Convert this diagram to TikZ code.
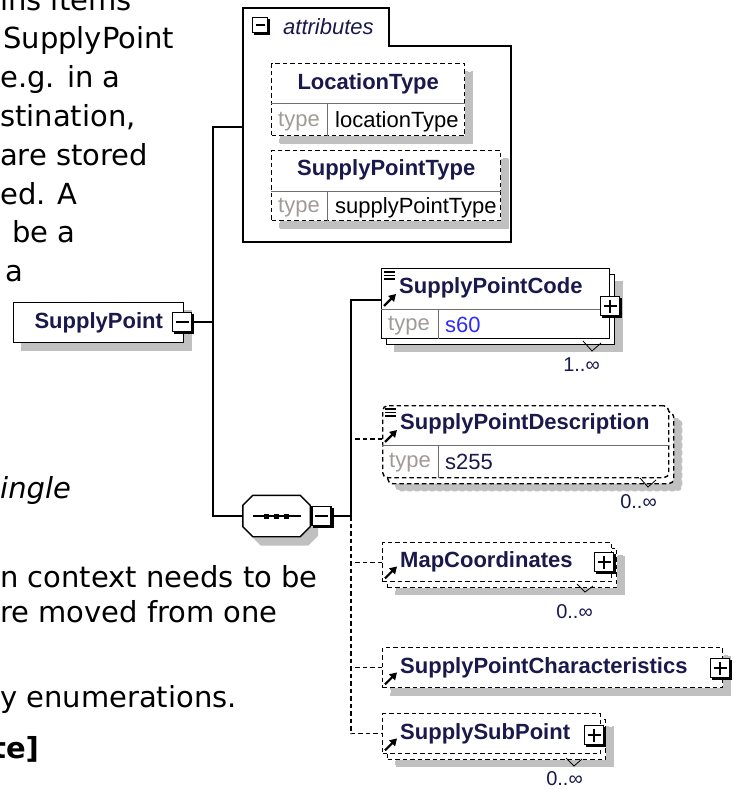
\documentclass[tikz,border=0pt]{standalone}
\usepackage{fontspec}
\setmainfont{DejaVu Sans}
\newfontfamily\xsdfont{Liberation Sans}
\usepackage{tikz}
\usetikzlibrary{arrows.meta, shadows, positioning, calc}
\definecolor{hdrnavy}{RGB}{25,25,75}
\definecolor{typegrey}{RGB}{160,155,150}
\definecolor{valblue}{RGB}{45,45,245}
\definecolor{shadowgrey}{RGB}{192,192,192}
\definecolor{rulegrey}{RGB}{110,110,110}
\newcommand{\octpath}[1]{([xshift=10pt]#1.north west) -- ([xshift=-10pt]#1.north east) -- ([yshift=-10pt]#1.north east) -- ([yshift=10pt]#1.south east) -- ([xshift=-10pt]#1.south east) -- ([xshift=10pt]#1.south west) -- ([yshift=10pt]#1.south west) -- ([yshift=-10pt]#1.north west) -- cycle}
\tikzset{
    doctext/.style = {anchor=base west, inner sep=0pt, font=\fontsize{29}{35}\selectfont},
    elem/.style = {rectangle, draw=black, line width=1.4pt, fill=white, inner sep=0pt, anchor=north west},
    optelem/.style = {elem, dash pattern=on 4.5pt off 3pt},
    single/.style = {drop shadow={shadow xshift=8pt, shadow yshift=-8pt, fill=shadowgrey, draw=shadowgrey, opacity=1}},
    multi/.style = {drop shadow={shadow xshift=13pt, shadow yshift=-13pt, fill=shadowgrey, draw=shadowgrey, opacity=1},
                    copy shadow={shadow xshift=5pt, shadow yshift=-6pt, fill=white, draw=black}},
    hdrfont/.style = {text=hdrnavy, font=\xsdfont\bfseries\fontsize{22}{26}\selectfont},
    hdr/.style = {hdrfont, anchor=west, inner sep=0pt},
    typelbl/.style = {inner sep=0pt, text=typegrey, font=\xsdfont\fontsize{22}{26}\selectfont},
    typeval/.style = {anchor=west, inner sep=0pt, text=black, font=\xsdfont\fontsize{22}{26}\selectfont},
    occurs/.style = {anchor=east, inner sep=0pt, text=hdrnavy, font=\xsdfont\fontsize{20}{24}\selectfont},
    divline/.style = {rulegrey, line width=1pt},
    conn/.style = {line width=1.4pt},
    optconn/.style = {line width=1.3pt, dash pattern=on 4.5pt off 3pt},
    pmbox/.style = {rectangle, draw=black, line width=1.3pt, fill=white, minimum size=19pt, inner sep=0pt,
                    drop shadow={shadow xshift=2pt, shadow yshift=-2pt, fill=black, draw=black, opacity=1}},
    minus/.style = {pmbox, path picture={\draw[line width=1.3pt] ([xshift=3pt]path picture bounding box.west) -- ([xshift=-3pt]path picture bounding box.east);}},
    plus/.style = {pmbox, path picture={\draw[line width=1.3pt] ([xshift=3pt]path picture bounding box.west) -- ([xshift=-3pt]path picture bounding box.east) ([yshift=-3pt]path picture bounding box.north) -- ([yshift=3pt]path picture bounding box.south);}},
    refarrow/.pic = {\draw[line width=2.2pt, -{Triangle[length=7pt, width=8pt]}] (-6,6) -- (6,-6);},
    simpletype/.pic = {\foreach \ly in {0,3.5,7} \draw[line width=1.4pt] (0,\ly) -- (11,\ly);}
}

\begin{document}
\begin{tikzpicture}[x=1pt, y=-1pt]
\useasboundingbox (0,0) rectangle (733,789);
\clip (0,0) rectangle (733,789);

% page text behind the diagram
\node[doctext] (p1) at (0,11) {ins items};
\node[doctext] (p2) at (3,49) {SupplyPoint};
\node[doctext] (p3) at (0,88) {e.g. in a};
\node[doctext] (p4) at (0,126) {stination,};
\node[doctext] (p5) at (0,165) {are stored};
\node[doctext] (p6) at (0,204) {ed. A};
\node[doctext] (p7) at (12,242) {be a};
\node[doctext] (p8) at (5,281) {a};
\node[doctext, font=\fontsize{29}{35}\selectfont\itshape] (p9) at (0,498) {ingle};
\node[doctext] (p10) at (0,587) {n context needs to be};
\node[doctext] (p11) at (0,622) {re moved from one};
\node[doctext] (p12) at (0,707) {y enumerations.};
\node[doctext, font=\fontsize{29}{35}\selectfont\bfseries] (p13) at (-8,758) {te]};

% attributes
\coordinate (attrs) at (243,127);
\draw[conn] (243,8) -| (389,46) -| (511,242) -- (243,242) -- cycle;
\node[minus, minimum size=15pt] (attrbtn) at (260,25) {};
\node[anchor=west, inner sep=0pt, text=hdrnavy, font=\xsdfont\itshape\fontsize{22}{26}\selectfont] (attrlbl) at (283,27) {attributes};

\node[optelem, single, minimum width=193pt, minimum height=72pt] (loc) at (271,63) {};
\draw[divline] ($(loc.north west)+(0,41)$) -- ($(loc.north east)+(0,41)$);
\draw[divline] ($(loc.north west)+(56,41)$) -- ($(loc.south west)+(56,0)$);
\node[hdr, anchor=center] (lochd) at ($(loc.north)+(0,21)$) {LocationType};
\node[typelbl] (loctype) at ($(loc.south west)+(28,-15)$) {type};
\node[typeval] (locval) at ($(loc.south west)+(64,-15)$) {locationType};

\node[optelem, single, minimum width=229pt, minimum height=70pt] (spt) at (271,150) {};
\draw[divline] ($(spt.north west)+(0,41)$) -- ($(spt.north east)+(0,41)$);
\draw[divline] ($(spt.north west)+(56,41)$) -- ($(spt.south west)+(56,0)$);
\node[hdr, anchor=center] (spthd) at ($(spt.north)+(0,20)$) {SupplyPointType};
\node[typelbl] (spttype) at ($(spt.south west)+(28,-14)$) {type};
\node[typeval] (sptval) at ($(spt.south west)+(64,-14)$) {supplyPointType};

% root element
\node[elem, single, hdrfont, minimum width=170pt, minimum height=40pt] (sp) at (13,302) {SupplyPoint};
\node[minus] (spbtn) at (182,322) {};

% sequence
\node[inner sep=0pt, minimum width=67pt, minimum height=41pt] (seq) at (276.5,516) {};
\fill[shadowgrey, transform canvas={xshift=8pt, yshift=-9pt}] \octpath{seq};
\draw[conn, fill=white] \octpath{seq};
\draw[conn] ([xshift=10pt]seq.west) -- ([xshift=-9pt]seq.east);
\foreach \dx in {-10,0,10}
  \fill ([xshift=\dx pt]seq.center) +(-2.5,-2.5) rectangle +(2.5,2.5);
\node[minus] (seqbtn) at (321.5,516) {};

\coordinate (fork) at (213,322);
\coordinate (trunk) at (351,516);
\draw[conn] (spbtn.east) -- (fork);
\draw[conn] (attrs) -| (fork) |- (seq.west);
\draw[conn] (seqbtn.east) -- (trunk);

% children
\node[elem, multi, minimum width=228pt, minimum height=70pt] (code) at (381,268) {};
\coordinate (codein) at ($(code.north west)+(0,32)$);
\draw[conn] (codein) -| (trunk);
\pic at ($(code.north west)+(3,4)$) {simpletype};
\pic at ($(code.north west)+(9,32)$) {refarrow};
\node[hdr] (codehd) at ($(code.north west)+(18,20)$) {SupplyPointCode};
\draw[divline] ($(code.north west)+(0,41)$) -- ($(code.north east)+(0,41)$);
\draw[divline] ($(code.north west)+(57,41)$) -- ($(code.south west)+(57,0)$);
\node[typelbl] (codetype) at ($(code.south west)+(28,-14)$) {type};
\node[typeval, text=valblue] (codeval) at ($(code.south west)+(64,-14)$) {s60};
\node[plus] (codebtn) at (610,306) {};
\draw[line width=0.8pt] (583,341) -- (592,351) -- (601,343);
\node[occurs] (codeocc) at (600,365) {1..∞};

\node[optelem, rounded corners=5pt, multi, minimum width=286pt, minimum height=72pt] (desc) at (382,405) {};
\coordinate (descin) at ($(desc.north west)+(0,34)$);
\draw[optconn] (descin) -- (descin -| trunk);
\pic at ($(desc.north west)+(3,4)$) {simpletype};
\pic at ($(desc.north west)+(9,31)$) {refarrow};
\node[hdr] (deschd) at ($(desc.north west)+(18,19)$) {SupplyPointDescription};
\draw[divline] ($(desc.north west)+(0,40)$) -- ($(desc.north east)+(0,40)$);
\draw[divline] ($(desc.north west)+(56,40)$) -- ($(desc.south west)+(56,0)$);
\node[typelbl] (desctype) at ($(desc.south west)+(28,-16)$) {type};
\node[typeval, text=hdrnavy] (descval) at ($(desc.south west)+(63,-16)$) {s255};
\draw[line width=0.8pt] (640,478) -- (648,487) -- (656,480);
\node[occurs] (descocc) at (657,502) {0..∞};

\node[optelem, multi, minimum width=229pt, minimum height=39pt] (map) at (382,542) {};
\draw[optconn] (map.west) -- (map.west -| trunk);
\pic at ($(map.south west)+(9,-10)$) {refarrow};
\node[hdr] (maphd) at ($(map.west)+(18,0)$) {MapCoordinates};
\node[plus] (mapbtn) at (604,562) {};
\draw[line width=0.8pt] (577,584) -- (585,592) -- (593,586);
\node[occurs] (mapocc) at (593,612) {0..∞};

\node[optelem, single, minimum width=340pt, minimum height=40pt] (char) at (382,647) {};
\draw[optconn] (char.west) -- (char.west -| trunk);
\pic at ($(char.south west)+(9,-10)$) {refarrow};
\node[hdr] (charhd) at ($(char.west)+(18,0)$) {SupplyPointCharacteristics};
\node[plus] (charbtn) at (720,668) {};

\node[optelem, multi, minimum width=218pt, minimum height=40pt] (sub) at (382,713) {};
\draw[optconn] (trunk) |- (sub.west);
\pic at ($(sub.south west)+(9,-10)$) {refarrow};
\node[hdr] (subhd) at ($(sub.west)+(18,0)$) {SupplySubPoint};
\node[plus] (subbtn) at (594,735) {};
\draw[line width=0.8pt] (566,758) -- (574,766) -- (582,759);
\node[occurs] (subocc) at (583,779) {0..∞};

\end{tikzpicture}
\end{document}
